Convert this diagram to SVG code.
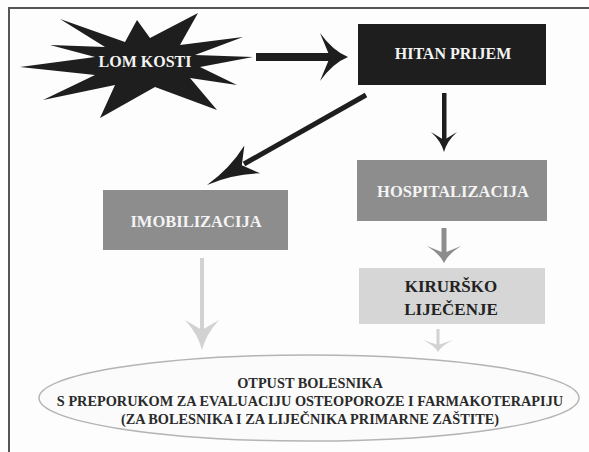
<svg xmlns="http://www.w3.org/2000/svg" width="589" height="452" viewBox="0 0 589 452">
<style>
text{font-family:"Liberation Serif","Times New Roman",serif;font-weight:bold;text-anchor:middle}
.lbl{font-size:16.5px;fill:#f4f4f4}
.dk{font-size:17px;fill:#222}
.el{font-size:14.3px;fill:#2a2a2a}
.blk{fill:#1e1e1e}
.mid{fill:#8d8d8d}
.lt{fill:#d2d2d2}
</style>
<rect width="589" height="452" fill="#fdfdfd"/>
<path d="M9,452 V8 H589" fill="none" stroke="#555" stroke-width="2"/>

<g id="lom-kosti">
<polygon class="blk" points="20,67 95,57 50,45 105,47 60,19 125,42 137,20 150,38 198,13 180,45 243,37 195,55 253,57 200,67 237,85 190,78 217,110 155,87 100,118 115,85 43,100 95,75"/>
<text x="145" y="67" style="font-size:16px;fill:#f4f4f4">LOM KOSTI</text>
</g>

<g id="hitan-prijem">
<rect x="358" y="24" width="188" height="61" class="blk"/>
<text x="453" y="59" class="lbl" style="font-size:16px">HITAN PRIJEM</text>
</g>

<g id="imobilizacija">
<rect x="103" y="190" width="185" height="60" class="mid"/>
<text x="196" y="227" class="lbl">IMOBILIZACIJA</text>
</g>

<g id="hospitalizacija">
<rect x="357" y="160" width="190" height="61" class="mid"/>
<text x="453" y="197" class="lbl">HOSPITALIZACIJA</text>
</g>

<g id="kirursko">
<rect x="359" y="268" width="186" height="56" class="lt" style="fill:#d6d6d6"/>
<text x="451" y="292" class="dk">KIRURŠKO</text>
<text x="451" y="315" class="dk">LIJEČENJE</text>
</g>

<g id="otpust">
<ellipse cx="309" cy="398" rx="270" ry="43" fill="#fbfbfb" stroke="#b4b4b4" stroke-width="1.5"/>
<text x="310" y="388" class="el">OTPUST BOLESNIKA</text>
<text x="310" y="406" class="el">S PREPORUKOM ZA EVALUACIJU OSTEOPOROZE I FARMAKOTERAPIJU</text>
<text x="310" y="424" class="el">(ZA BOLESNIKA I ZA LIJEČNIKA PRIMARNE ZAŠTITE)</text>
</g>

<g id="connectors">
<g id="lom-to-hitan" class="blk">
<rect x="256" y="53" width="78" height="8"/>
<path transform="translate(348,57)" d="M0,0 Q-15,-6 -28,-24 L-18,0 L-28,24 Q-15,6 0,0Z"/>
</g>
<g id="hitan-to-hosp" class="blk">
<rect x="442" y="93" width="4.5" height="50"/>
<path transform="translate(444,152) rotate(90)" d="M0,0 Q-11,-3 -20,-13 L-12,0 L-20,13 Q-11,3 0,0Z"/>
</g>
<g id="hitan-to-imob">
<line x1="366" y1="95" x2="244" y2="164" stroke="#1e1e1e" stroke-width="5"/>
<path class="blk" transform="translate(207,185) rotate(150.5)" d="M0,0 Q-28,-3 -52,-16 L-40,0 L-52,16 Q-28,3 0,0Z"/>
</g>
<g id="hosp-to-kir" class="mid">
<rect x="441.5" y="228" width="5" height="26"/>
<path transform="translate(444,263) rotate(90)" d="M0,0 Q-9,-4 -17,-17 L-10,0 L-17,17 Q-9,4 0,0Z"/>
</g>
<g id="imob-to-otpust" class="lt">
<rect x="200" y="258" width="4" height="74"/>
<path transform="translate(202,350) rotate(90)" d="M0,0 Q-16,-4 -30,-17 L-20,0 L-30,17 Q-16,4 0,0Z"/>
</g>
<g id="kir-to-otpust" class="lt">
<rect x="436.5" y="329" width="3" height="18"/>
<path transform="translate(438,352) rotate(90)" d="M0,0 Q-6,-3 -12,-15 L-7,0 L-12,15 Q-6,3 0,0Z"/>
</g>
</g>
</svg>
